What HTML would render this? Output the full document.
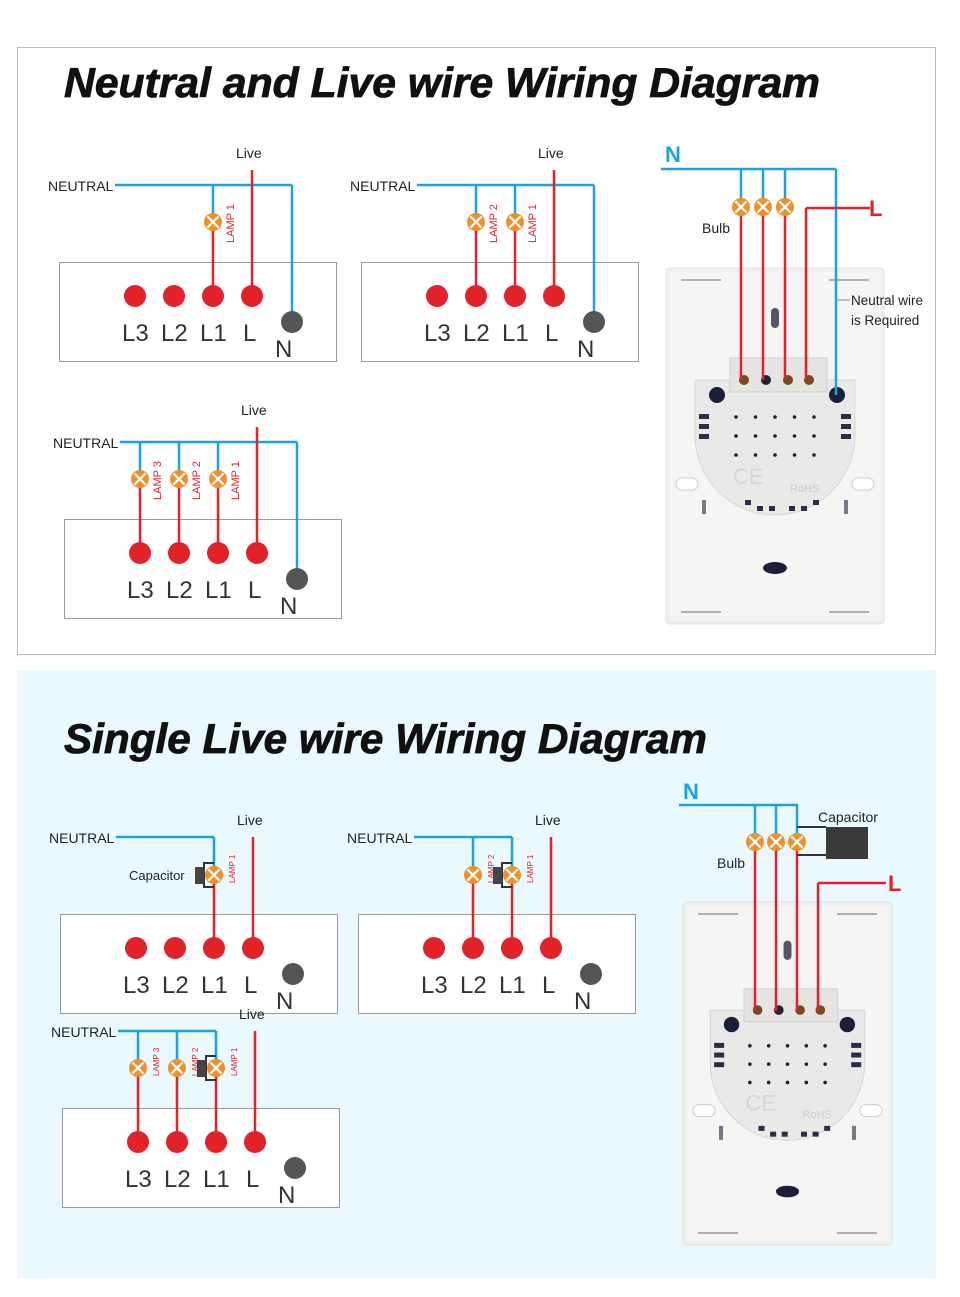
<!DOCTYPE html>
<html><head><meta charset="utf-8"><style>
html,body{margin:0;padding:0;background:#fff;}
svg{display:block;}
text{font-family:"Liberation Sans",sans-serif;}
</style></head><body>
<svg id="s" width="960" height="1297" viewBox="0 0 960 1297" xmlns="http://www.w3.org/2000/svg">
<rect x="0" y="0" width="960" height="1297" fill="#fff"/>
<rect x="17.5" y="47.5" width="918" height="607" fill="#fff" stroke="#bbb"/>
<rect x="17" y="670" width="919" height="608" fill="#e9f9fd"/>
<text x="64" y="97" font-size="42" font-weight="bold" font-style="italic" fill="#111" stroke="#111" stroke-width="0.8" textLength="756" lengthAdjust="spacingAndGlyphs">Neutral and Live wire Wiring Diagram</text>
<text x="64" y="753" font-size="42" font-weight="bold" font-style="italic" fill="#111" stroke="#111" stroke-width="0.8" textLength="643" lengthAdjust="spacingAndGlyphs">Single Live wire Wiring Diagram</text>
<g id="g"></g>
</svg>
<script>
var B='#1aa3df',R='#e32129',O='#f0902a';
var h='';
function line(x1,y1,x2,y2,c,w){h+='<line x1="'+x1+'" y1="'+y1+'" x2="'+x2+'" y2="'+y2+'" stroke="'+c+'" stroke-width="'+(w||2.5)+'"/>';}
function lamp(x,y,r){r=r||9;var d=r*0.62;h+='<circle cx="'+x+'" cy="'+y+'" r="'+r+'" fill="'+O+'"/>';line(x-d,y-d,x+d,y+d,'#fff',2.2);line(x-d,y+d,x+d,y-d,'#fff',2.2);}
function txt(x,y,s,sz,c,extra){h+='<text x="'+x+'" y="'+y+'" font-size="'+sz+'" fill="'+(c||'#222')+'" '+(extra||'')+'>'+s+'</text>';}
function vtxt(x,y,s,sz,c){h+='<text transform="translate('+x+','+y+') rotate(-90)" font-size="'+sz+'" fill="'+c+'">'+s+'</text>';}
function cap(x,y){h+='<path d="M'+(x)+' '+(y-12)+' H'+(x-10)+' V'+(y+12)+' H'+x+'" fill="none" stroke="#333" stroke-width="2"/>';h+='<rect x="'+(x-19)+'" y="'+(y-8)+'" width="9" height="17" fill="#444"/>';}
function panel(bx,by,ny,lvy,lampY,lamps,neutralToN,capIdx,small,labels){
  var xs=[bx+76,bx+115,bx+154,bx+193];var dy=by+34;
  h+='<rect x="'+(bx+0.5)+'" y="'+(by+0.5)+'" width="277" height="99" fill="#fff" stroke="#999"/>';
  var nx=bx+233;
  var endX=neutralToN?nx:xs[Math.max.apply(null,lamps)];
  txt(bx-11,ny+6,'NEUTRAL',14,'#222');
  line(bx+56,ny,endX,ny,B);
  if(neutralToN) line(nx,ny,nx,by+60,B);
  txt(xs[3]-16,lvy-12,'Live',14,'#222');
  line(xs[3],lvy,xs[3],dy,R);
  lamps.forEach(function(i,k){var x=xs[i];line(x,ny,x,lampY,B);line(x,lampY,x,dy,R);
    if(capIdx===i) cap(x,lampY);
    lamp(x,lampY);vtxt(x+21,lampY+(small?8:21),labels[k],small?8:11,R);});
  xs.forEach(function(x){h+='<circle cx="'+x+'" cy="'+dy+'" r="11" fill="'+R+'"/>';});
  h+='<circle cx="'+nx+'" cy="'+(by+60)+'" r="11" fill="#555"/>';
  ['L3','L2','L1','L'].forEach(function(s,i){txt(xs[i]-(s=='L'?9:13),by+79,s,24,'#333');});
  txt(nx-17,by+95,'N',24,'#333');
}
panel(59,262,185,170,222,[2],true,null,false,['LAMP 1']);
panel(361,262,185,170,222,[1,2],true,null,false,['LAMP 2','LAMP 1']);
panel(64,519,442,427,479,[0,1,2],true,null,false,['LAMP 3','LAMP 2','LAMP 1']);
panel(60,914,837,837,875,[2],false,2,true,['LAMP 1']);
txt(129,880,'Capacitor',13,'#222');
panel(358,914,837,837,875,[1,2],false,2,true,['LAMP 2','LAMP 1']);
panel(62,1108,1031,1031,1068,[0,1,2],false,2,true,['LAMP 3','LAMP 2','LAMP 1']);

function plate(x,y,w,hh,s){
  var cx=x+w/2;
  h+='<rect x="'+x+'" y="'+y+'" width="'+w+'" height="'+hh+'" rx="4" fill="#f0f0ef" stroke="#e0e0e0"/>';
  h+='<rect x="'+(x+4)+'" y="'+(y+4)+'" width="'+(w-8)+'" height="'+(hh-8)+'" fill="#f5f5f4"/>';
  var ccy=y+167*s, rr=80*s;
  h+='<path d="M'+(cx-rr)+' '+(y+112*s)+' H'+(cx+rr)+' V'+ccy+' A'+rr+' '+rr+' 0 0 1 '+(cx-rr)+' '+ccy+' Z" fill="#e9e9e8" stroke="#d6d6d6"/>';
  h+='<rect x="'+(cx-45*s)+'" y="'+(y+90*s)+'" width="'+(97*s)+'" height="'+(34*s)+'" fill="#e4e4e3" stroke="#d0d0d0"/>';
  var tx=[-31,-9,13,34];
  tx.forEach(function(d,i){h+='<circle cx="'+(cx+d*s)+'" cy="'+(y+112*s)+'" r="'+(5*s)+'" fill="'+(i==1?'#223':'#7a4a1a')+'"/>';});
  h+='<circle cx="'+(cx-58*s)+'" cy="'+(y+127*s)+'" r="'+(8*s)+'" fill="#1b1f3a"/>';
  h+='<circle cx="'+(cx+62*s)+'" cy="'+(y+127*s)+'" r="'+(8*s)+'" fill="#1b1f3a"/>';
  for(var r=0;r<3;r++)for(var c=0;c<5;c++)h+='<circle cx="'+(cx+(-39+c*19.5)*s)+'" cy="'+(y+(149+r*19)*s)+'" r="1.8" fill="#222"/>';
  for(var k=0;k<3;k++){h+='<rect x="'+(cx-76*s)+'" y="'+(y+(146+k*10)*s)+'" width="10" height="5" fill="#2a2e45"/>';h+='<rect x="'+(cx+66*s)+'" y="'+(y+(146+k*10)*s)+'" width="10" height="5" fill="#2a2e45"/>';}
  for(var k=0;k<6;k++){var ax=cx+(-30+k*12+(k>2?8:0))*s;h+='<rect x="'+ax+'" y="'+(y+(238+(k==0||k==5?-6:0))*s)+'" width="6" height="5" fill="#2a2e45"/>';}
  h+='<ellipse cx="'+cx+'" cy="'+(y+300*s)+'" rx="'+(12*s)+'" ry="'+(6*s)+'" fill="#1b1f3a"/>';
  h+='<rect x="'+(cx-4)+'" y="'+(y+40*s)+'" width="8" height="'+(20*s)+'" rx="4" fill="#556"/>';
  h+='<rect x="'+(x+10)+'" y="'+(y+210*s)+'" width="22" height="12" rx="6" fill="#fff" stroke="#ccc"/>';
  h+='<rect x="'+(x+w-32)+'" y="'+(y+210*s)+'" width="22" height="12" rx="6" fill="#fff" stroke="#ccc"/>';
  h+='<rect x="'+(x+36)+'" y="'+(y+232*s)+'" width="4" height="14" fill="#778"/>';
  h+='<rect x="'+(x+w-40)+'" y="'+(y+232*s)+'" width="4" height="14" fill="#778"/>';
  h+='<path d="M'+(x+15)+' '+(y+12)+' h40 M'+(x+w-55)+' '+(y+12)+' h40 M'+(x+15)+' '+(y+hh-12)+' h40 M'+(x+w-55)+' '+(y+hh-12)+' h40" stroke="#999" stroke-width="1.5"/>';
  h+='<text x="'+(cx+15)+'" y="'+(y+224*s)+'" font-size="11" fill="#ccc">RoHS</text>';
  h+='<text x="'+(cx-42)+'" y="'+(y+216*s)+'" font-size="22" fill="#d6d6d6">CE</text>';
}
plate(666,268,218,356,1);
var tX=[741,763,785,806], tY=380;
line(661,169,836,169,B);line(836,169,836,395,B);
[0,1,2].forEach(function(i){line(tX[i],169,tX[i],207,B);line(tX[i],207,tX[i],tY,R);lamp(tX[i],207,9);});
line(870,208,806,208,R);line(806,208,806,tY,R);
txt(665,162,'N',22,B,'font-weight="bold"');txt(869,216,'L',22,R,'font-weight="bold"');
txt(702,233,'Bulb',14,'#222');
line(836,300,850,300,'#888',1);
txt(851,305,'Neutral wire',13.5,'#222');txt(851,325,'is Required',13.5,'#222');
plate(683,902,209,343,0.965);
var bX=[755,776,797,818], bY=1011;
line(679,805,798,805,B);
[0,1,2].forEach(function(i){line(bX[i],805,bX[i],842,B);line(bX[i],842,bX[i],bY,R);lamp(bX[i],842,9);});
line(797,827,826,827,'#333',2);line(797,855,826,855,'#333',2);
h+='<rect x="826" y="827" width="42" height="32" fill="#3a3a3a"/>';
txt(818,822,'Capacitor',14,'#222');
line(886,883,818,883,R);line(818,883,818,bY,R);
txt(683,799,'N',22,B,'font-weight="bold"');txt(888,891,'L',22,R,'font-weight="bold"');
txt(717,868,'Bulb',14,'#222');
document.getElementById('g').innerHTML=h;
</script>
</body></html>
